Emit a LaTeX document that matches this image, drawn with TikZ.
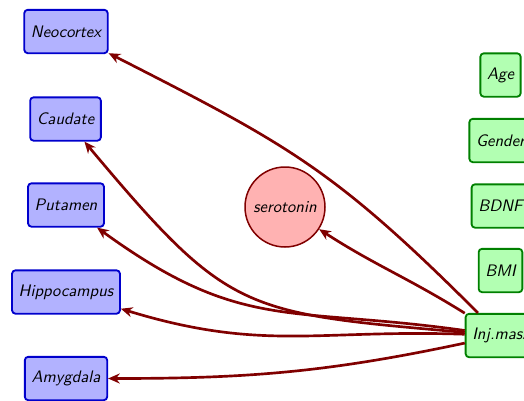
\documentclass[tikz,border=0pt]{standalone}
\usetikzlibrary{arrows.meta}
\begin{document}
\begin{tikzpicture}[x=0.6pt,y=0.6pt,
  region/.style={draw=blue!80!black, fill=blue!30, rounded corners=2pt,
    line width=1.1pt, minimum height=26pt, inner xsep=4pt,
    font=\sffamily\itshape},
  covar/.style={draw=green!50!black, fill=green!30, rounded corners=2pt,
    line width=1.1pt, minimum height=26pt, inner xsep=4pt,
    font=\sffamily\itshape},
  mediator/.style={circle, draw=red!50!black, fill=red!30, minimum size=48pt,
    inner sep=0pt, line width=0.9pt, font=\sffamily\itshape},
  effect/.style={draw=red!50!black, line width=1.6pt,
    -{Stealth[length=7pt,width=6pt]}}]
\useasboundingbox (0,0) rectangle (524,400);
\clip (0,0) rectangle (524,400);

% brain regions
\node[region] (neo)  at (66,368.5) {Neocortex};
\node[region] (cau)  at (65.5,281) {Caudate};
\node[region] (put)  at (66,195)   {Putamen};
\node[region] (hip)  at (66,108)   {Hippocampus};
\node[region] (amy)  at (66,21.5)  {Amygdala};

% covariates
\node[covar] (age)  at (500.5,325)   {Age};
\node[covar] (gen)  at (500.5,259.5) {Gender};
\node[covar] (bdnf) at (500.5,194)   {BDNF};
\node[covar] (bmi)  at (500.5,129.5) {BMI};
\node[covar] (inj)  at (500.5,64.5)  {Inj.mass};

% mediator
\node[mediator] (ser) at (285,193) {serotonin};

% effects of injury mass
\draw[effect] (inj) to[out=135,in=-27,looseness=1.15] (neo);
\draw[effect] (inj) to[out=175,in=-50,looseness=1.35] (cau);
\draw[effect] (inj) to[out=172,in=-36,looseness=1.2] (put);
\draw[effect] (inj) to[out=178,in=-17,looseness=1.1] (hip);
\draw[effect] (inj) to[out=192,in=0]   (amy);
\draw[effect] (inj) to[out=148,in=-33] (ser);
\end{tikzpicture}
\end{document}
